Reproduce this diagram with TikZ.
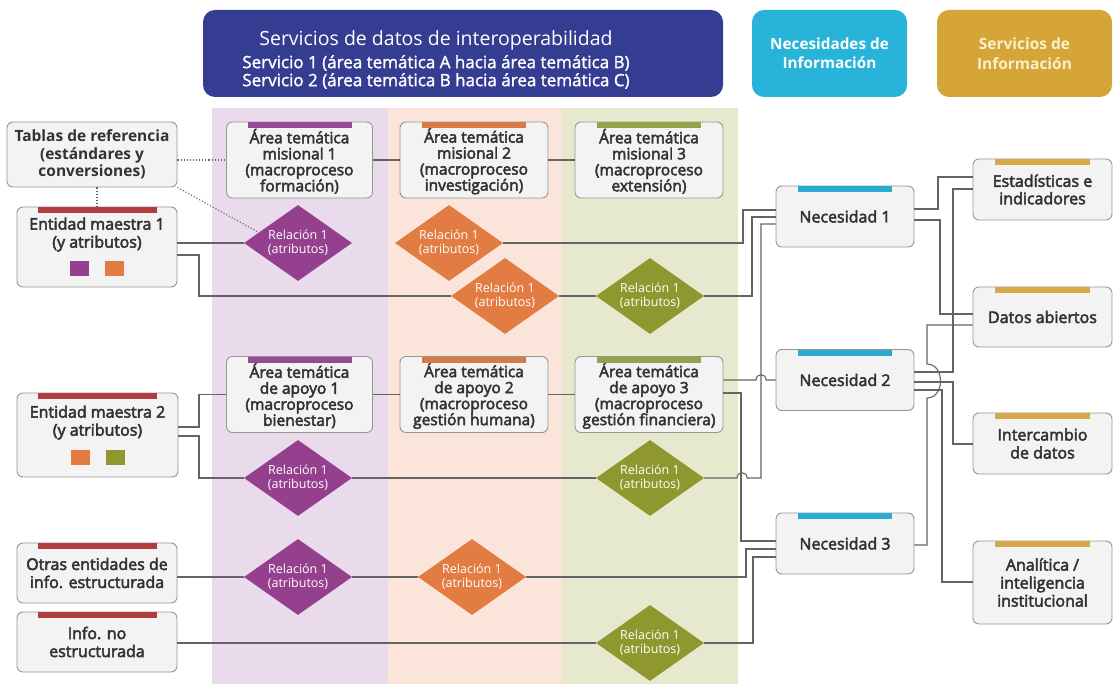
\documentclass[tikz,border=0pt]{standalone}
\usepackage{fontspec}
\setmainfont{Open Sans}
\newfontfamily\semib[FakeBold=3]{Open Sans}
\newfontfamily\semil[FakeBold=1.5]{Open Sans}
\usetikzlibrary{shapes.geometric,calc}
\definecolor{hdrblue}{RGB}{53,61,146}
\definecolor{hdrcyan}{RGB}{40,180,216}
\definecolor{hdrgold}{RGB}{214,165,56}
\definecolor{goldtxt}{RGB}{252,238,205}
\definecolor{bandpurp}{RGB}{234,219,236}
\definecolor{bandorng}{RGB}{251,229,219}
\definecolor{bandolive}{RGB}{231,233,207}
\definecolor{dpurp}{RGB}{148,64,142}
\definecolor{dorng}{RGB}{226,124,66}
\definecolor{dolive}{RGB}{142,152,46}
\definecolor{barred}{RGB}{178,60,64}
\definecolor{barpurp}{RGB}{148,74,150}
\definecolor{barorng}{RGB}{214,122,72}
\definecolor{barolive}{RGB}{150,162,72}
\definecolor{barcyan}{RGB}{42,172,206}
\definecolor{bargold}{RGB}{214,168,72}
\definecolor{boxfill}{RGB}{243,243,243}
\definecolor{boxline}{RGB}{150,150,150}
\definecolor{txt}{RGB}{50,50,50}
\definecolor{conncol}{RGB}{100,100,100}
\newcommand\topbar[3]{\fill[#2] ($(#1.north)+(-#3,0.5)$) rectangle ($(#1.north)+(#3,6.5)$);}
\newcommand\reltext{\smash{\raisebox{-4pt}{\begin{tabular}{@{}c@{}}Relación 1\\(atributos)\end{tabular}}}}
\newcommand\topgap{\rule{0pt}{17pt}}
\begin{document}
\begin{tikzpicture}[x=1pt,y=-1pt,
  box/.style={draw=boxline, fill=boxfill, rounded corners=6pt, line width=0.9pt, align=center, inner sep=0pt, text=txt, font=\semib\fontsize{15.5}{16}\selectfont},
  entbox/.style={box, font=\semib\fontsize{16}{18}\selectfont},
  tabbox/.style={box, font=\bfseries\fontsize{15.5}{17.5}\selectfont},
  rel/.style={diamond, inner sep=0pt, minimum width=108pt, minimum height=76pt, text=white, font=\fontsize{12.5}{13.5}\selectfont},
  hdr/.style={rounded corners=12pt, inner sep=0pt, align=center},
  conn/.style={draw=conncol, line width=1.1pt},
  dots/.style={draw=conncol, line width=1.1pt, dotted}]
\fill[white] (0,0) rectangle (1114,684);
\useasboundingbox (0,0) rectangle (1114,684);
% bands
\fill[bandpurp] (212,108) rectangle (388,684);
\fill[bandorng] (388,108) rectangle (562,684);
\fill[bandolive] (562,108) rectangle (738,684);
% headers
\node[hdr, fill=hdrblue, minimum width=520pt, minimum height=87pt] (hdrbox) at (463,53.5) {};
\node[text=white, font=\fontsize{19.5}{22}\selectfont] (hdrtitle) at (436,40) {Servicios de datos de interoperabilidad};
\node[text=white, align=center, font=\semil\fontsize{17}{18}\selectfont] (hdrlines) at (436,72) {Servicio 1 (área temática A hacia área temática B)\\Servicio 2 (área temática B hacia área temática C)};
\node[hdr, fill=hdrcyan, minimum width=155pt, minimum height=87pt, text=white, font=\bfseries\fontsize{15.3}{18.5}\selectfont] (hnec) at (829.5,53.5) {Necesidades de\\Información};
\node[hdr, fill=hdrgold, minimum width=175pt, minimum height=87pt, text=goldtxt, font=\bfseries\fontsize{15.5}{20}\selectfont] (hserv) at (1024.5,53.5) {Servicios de\\Información};
% left boxes
\node[tabbox, minimum width=170pt, minimum height=65pt] (tab) at (92,154.5) {Tablas de referencia\\(estándares y\\conversiones)};
\node[entbox, minimum width=160pt, minimum height=80pt] (ent1) at (97,247) {Entidad maestra 1\\(y atributos)\\[9pt]{\color{dpurp}\rule{19pt}{15pt}}\hspace{16pt}{\color{dorng}\rule{19pt}{15pt}}};
\node[entbox, minimum width=161pt, minimum height=84pt] (ent2) at (97.5,435) {Entidad maestra 2\\(y atributos)\\[9pt]{\color{dorng}\rule{19pt}{15pt}}\hspace{16pt}{\color{dolive}\rule{19pt}{15pt}}};
\node[entbox, minimum width=160pt, minimum height=60pt] (otras) at (97,573) {Otras entidades de\\info. estructurada};
\node[entbox, minimum width=160pt, minimum height=60pt] (info) at (97,642) {Info. no\\estructurada};
% area boxes
\node[box, minimum width=146pt, minimum height=76pt] (m1) at (299.5,160) {\topgap Área temática\\misional 1\\(macroproceso\\formación)};
\node[box, minimum width=148pt, minimum height=76pt] (m2) at (474,160) {\topgap Área temática\\misional 2\\(macroproceso\\investigación)};
\node[box, minimum width=148pt, minimum height=76pt] (m3) at (649,160) {\topgap Área temática\\misional 3\\(macroproceso\\extensión)};
\node[box, minimum width=146pt, minimum height=76pt] (a1) at (299.5,394.5) {\topgap Área temática\\de apoyo 1\\(macroproceso\\bienestar)};
\node[box, minimum width=148pt, minimum height=76pt] (a2) at (474,394.5) {\topgap Área temática\\de apoyo 2\\(macroproceso\\gestión humana)};
\node[box, minimum width=148pt, minimum height=76pt] (a3) at (649,394.5) {\topgap Área temática\\de apoyo 3\\(macroproceso\\gestión financiera)};
% diamonds
\node[rel, fill=dpurp] (d1p) at (298,243) {\reltext};
\node[rel, fill=dorng] (d1o) at (449,243) {\reltext};
\node[rel, fill=dorng] (d2o) at (505,296) {\reltext};
\node[rel, fill=dolive] (d2g) at (650,296) {\reltext};
\node[rel, fill=dpurp] (d4p) at (298,478) {\reltext};
\node[rel, fill=dolive] (d4g) at (650,478) {\reltext};
\node[rel, fill=dpurp] (d5p) at (298,577) {\reltext};
\node[rel, fill=dorng] (d5o) at (472,577) {\reltext};
\node[rel, fill=dolive] (d6g) at (650,643) {\reltext};
% necesidades
\node[box, minimum width=138pt, minimum height=61pt, font=\semib\fontsize{16}{18}\selectfont] (n1) at (845,216.5) {Necesidad 1};
\node[box, minimum width=138pt, minimum height=61pt, font=\semib\fontsize{16}{18}\selectfont] (n2) at (845,380) {Necesidad 2};
\node[box, minimum width=138pt, minimum height=61pt, font=\semib\fontsize{16}{18}\selectfont] (n3) at (845,543.5) {Necesidad 3};
% servicios
\node[box, minimum width=139pt, minimum height=61pt, font=\semib\fontsize{16}{17.5}\selectfont] (s1) at (1042.5,189.5) {Estadísticas e\\indicadores};
\node[box, minimum width=139pt, minimum height=60pt, font=\semib\fontsize{16}{17.5}\selectfont] (s2) at (1042.5,317) {Datos abiertos};
\node[box, minimum width=139pt, minimum height=61pt, font=\semib\fontsize{16}{18}\selectfont] (s3) at (1042.5,443.5) {Intercambio\\de datos};
\node[box, minimum width=139pt, minimum height=83pt, font=\semib\fontsize{16}{18}\selectfont] (s4) at (1042.5,582.5) {Analítica /\\inteligencia\\institucional};
% bars
\topbar{ent1}{barred}{59.5}
\topbar{ent2}{barred}{59.5}
\topbar{otras}{barred}{59.5}
\topbar{info}{barred}{59.5}
\topbar{m1}{barpurp}{52}
\topbar{m2}{barorng}{52}
\topbar{m3}{barolive}{52}
\topbar{a1}{barpurp}{52}
\topbar{a2}{barorng}{52}
\topbar{a3}{barolive}{52}
\topbar{n1}{barcyan}{47}
\topbar{n2}{barcyan}{47}
\topbar{n3}{barcyan}{47}
\topbar{s1}{bargold}{47.5}
\topbar{s2}{bargold}{47.5}
\topbar{s3}{bargold}{47.5}
\topbar{s4}{bargold}{47.5}
% dotted links
\draw[dots] (m1.west -| tab.east) -- (m1.west);
\draw[dots] (ent1.north |- tab.south) -- (ent1.north);
\draw[dots] (tab.south east) -- (d1p.165);
% row connectors
\draw[conn] (m1.east) -- (m2.west);
\draw[conn] (m2.east) -- (m3.west);
\draw[conn] (a1.east) -- (a2.west);
\draw[conn] (a2.east) -- (a3.west);
\draw[conn] (ent1.east |- d1p) -- (d1p.west);
\draw[conn] (ent1.east |- 0,255) -- (199,255) |- (d2o.west);
\draw[conn] (d2o.east) -- (d2g.west);
\draw[conn] (d2g.east) -- (752,296) |- (n1.west |- 0,217);
\draw[conn] (d1o.east) -- (743,243) |- (n1.west |- 0,210);
\draw[conn] (ent2.east |- 0,427) -- (199,427) |- (a1.west);
\draw[conn] (ent2.east |- 0,436) -- (199,436) |- (d4p.west);
\draw[conn] (d4p.east) -- (d4g.west);
\draw[conn] (d4g.east) -- (737,478) .. controls (737,471) and (747,471) .. (747,478) -- (761,478) |- (n1.west |- 0,224);
\draw[conn] (a3.east |- n2.west) -- (756,380) .. controls (756,373) and (766,373) .. (766,380) -- (n2.west);
\draw[conn] (a3.east |- 0,393) -- (741,393) |- (n3.west |- 0,541);
\draw[conn] (otras.east |- d5p) -- (d5p.west);
\draw[conn] (d5p.east) -- (d5o.west);
\draw[conn] (d5o.east) -- (746,577) |- (n3.west |- 0,549);
\draw[conn] (info.east |- d6g) -- (d6g.west);
\draw[conn] (d6g.east) -- (753,643) |- (n3.west |- 0,557);
% right connectors
\draw[conn] (n1.east |- 0,209) -- (938,209) |- (s1.west |- 0,177);
\draw[conn] (n1.east |- 0,220) -- (940,220) |- (s2.west |- 0,314);
\draw[conn] (n2.east |- 0,372) -- (953,372) |- (s1.west |- 0,189);
\draw[conn] (n2.east |- 0,382) -- (953,382) |- (s3.west |- 0,444);
\draw[conn] (n2.east |- 0,390) -- (942,390) |- (s4.west |- 0,582);
\draw[conn] (n3.east |- 0,545) -- (927,545) -- (927,398) .. controls (945,398) and (945,364) .. (927,364) -- (927,325) -- (s2.west |- 0,325);
\end{tikzpicture}
\end{document}
